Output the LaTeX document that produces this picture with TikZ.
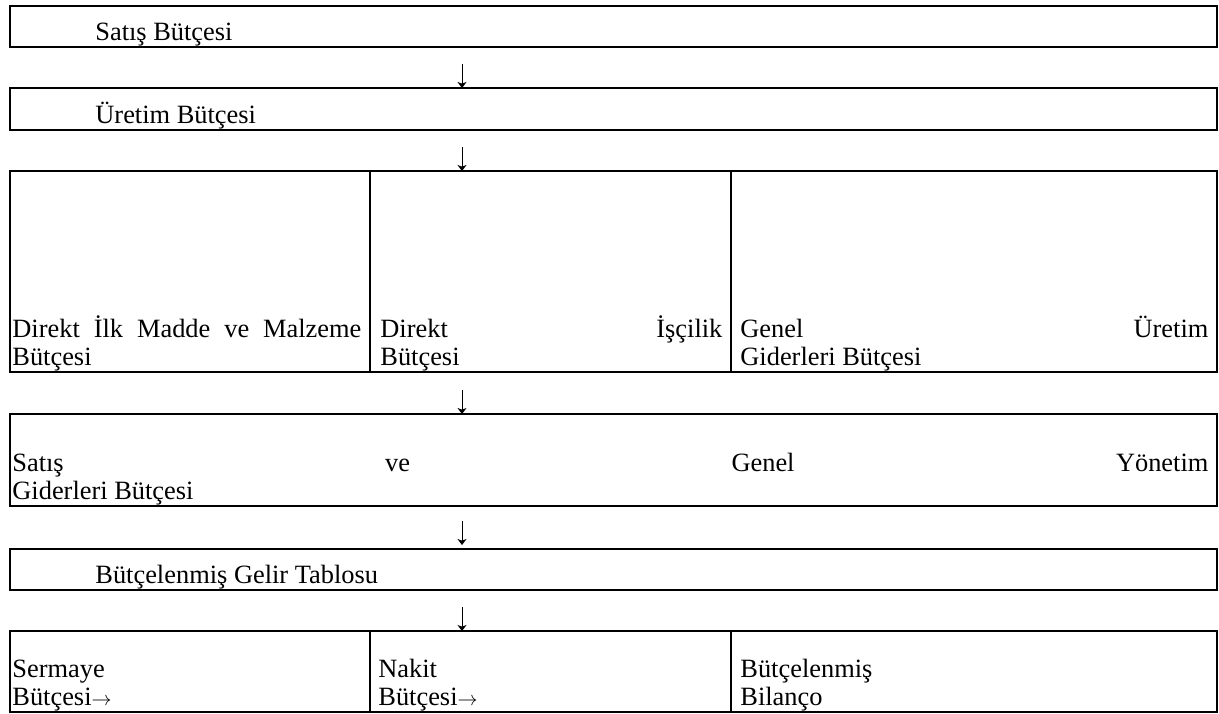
\documentclass[tikz,border=0pt]{standalone}
\usepackage{fontspec}
\setmainfont{Liberation Serif}
\usetikzlibrary{positioning, arrows.meta}

\newcommand{\toarr}{{\fontsize{10pt}{14pt}\selectfont$\rightarrow$}}

\begin{document}
\begin{tikzpicture}[
    x=0.5pt, y=-0.5pt,
    box/.style={
        rectangle,
        draw=black,
        line width=1pt,
        inner sep=0pt,
        outer sep=0pt,
        anchor=north west
    },
    txt/.style={
        inner sep=0pt,
        anchor=base west,
        font=\fontsize{13.2pt}{14pt}\selectfont
    },
    cell/.style={txt, align=justify, text width=#1},
    flow/.style={line width=0.5pt, -{Stealth[length=3pt,width=4.5pt,inset=0.8pt]}}
]

\useasboundingbox (0,0) rectangle (1219,713);

% Boxes
\node (sales) [box, minimum width=603.5pt, minimum height=20.5pt] at (10,6) {};
\node (prod) [box, minimum width=603.5pt, minimum height=21pt, below right=20.5pt and 0pt of sales.south west] {};
\node (dm) [box, minimum width=180pt, minimum height=100.5pt, below right=20.5pt and 0pt of prod.south west] {};
\node (dl) [box, minimum width=180.5pt, minimum height=100.5pt, right=0pt of dm] {};
\node (oh) [box, minimum width=243pt, minimum height=100.5pt, right=0pt of dl] {};
\node (sga) [box, minimum width=603.5pt, minimum height=46pt, below right=21pt and 0pt of dm.south west] {};
\node (inc) [box, minimum width=603.5pt, minimum height=20.5pt, below right=21.5pt and 0pt of sga.south west] {};
\node (cap) [box, minimum width=180pt, minimum height=40.5pt, below right=20.5pt and 0pt of inc.south west] {};
\node (cash) [box, minimum width=180.5pt, minimum height=40.5pt, right=0pt of cap] {};
\node (bal) [box, minimum width=243pt, minimum height=40.5pt, right=0pt of cash] {};

% Texts
\node (salestxt) [txt] at ([shift={(42.5pt,3.5pt)}]sales.south west) {Satış Bütçesi};
\node (prodtxt) [txt] at ([shift={(42.5pt,3.5pt)}]prod.south west) {Üretim Bütçesi};
\node (dmtxt) [cell=174.5pt] at ([shift={(1pt,17.5pt)}]dm.south west) {Direkt İlk Madde ve Malzeme\linebreak Bütçesi};
\node (dltxt) [cell=171pt] at ([shift={(5pt,17.5pt)}]dl.south west) {Direkt İşçilik\linebreak Bütçesi};
\node (ohtxt) [cell=234pt] at ([shift={(4.5pt,17.5pt)}]oh.south west) {Genel Üretim\linebreak Giderleri Bütçesi};
\node (sgatxt) [cell=598pt] at ([shift={(1pt,17.5pt)}]sga.south west) {Satış ve Genel Yönetim\linebreak Giderleri Bütçesi};
\node (inctxt) [txt] at ([shift={(42.5pt,3.5pt)}]inc.south west) {Bütçelenmiş Gelir Tablosu};
\node (captxt) [cell=174.5pt] at ([shift={(1pt,17.5pt)}]cap.south west) {Sermaye\\Bütçesi\toarr};
\node (cashtxt) [cell=171pt] at ([shift={(4pt,17.5pt)}]cash.south west) {Nakit\\Bütçesi\toarr};
\node (baltxt) [cell=234pt] at ([shift={(4.5pt,17.5pt)}]bal.south west) {Bütçelenmiş\\Bilanço};

% Arrows
\coordinate (ax) at (462,0);
\draw [flow, shorten <=8.5pt] (sales.south -| ax) -- (prod.north -| ax);
\draw [flow, shorten <=8.5pt] (prod.south -| ax) -- (dl.north -| ax);
\draw [flow, shorten <=9pt] (dl.south -| ax) -- (sga.north -| ax);
\draw [flow, shorten <=7.5pt, shorten >=2pt] (sga.south -| ax) -- (inc.north -| ax);
\draw [flow, shorten <=8.5pt] (inc.south -| ax) -- (cash.north -| ax);

\end{tikzpicture}
\end{document}
